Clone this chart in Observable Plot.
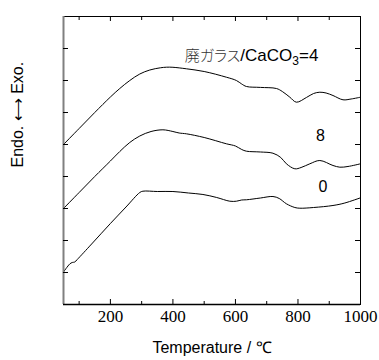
<!DOCTYPE html>
<html><head><meta charset="utf-8">
<script src="https://cdn.jsdelivr.net/npm/d3@7"></script>
<script src="https://cdn.jsdelivr.net/npm/@observablehq/plot@0.6"></script>
<style>body{margin:0;background:#fff}</style>
</head><body><div id="chart"></div>
<script>
// Series "4" (waste glass / CaCO3 = 4)
const temps4 = [50,100,150,200,230,262,294,326,360,380,400,443,500,571,603,620,635,680,731,750,774,795,827,850,870,890,912,944,970,1000];
const dta4   = [5.000,5.500,6.000,6.484,6.750,7.000,7.203,7.328,7.397,7.416,7.413,7.366,7.281,7.103,7.000,6.891,6.813,6.784,6.750,6.656,6.478,6.322,6.469,6.594,6.634,6.609,6.531,6.397,6.422,6.478];
// Series "8"
const temps8 = [50,100,150,200,230,262,294,330,368,400,420,443,500,571,600,620,635,680,720,745,763,790,810,838,870,912,934,960,1000];
const dta8   = [3.000,3.500,4.000,4.484,4.781,5.063,5.266,5.406,5.459,5.406,5.359,5.334,5.219,5.022,4.953,4.844,4.791,4.766,4.728,4.594,4.397,4.241,4.281,4.397,4.500,4.344,4.291,4.313,4.397];
// Series "0"
const temps0 = [50,70,78,86,94,140,200,250,294,304,350,400,450,496,540,582,603,620,635,680,720,740,763,790,806,850,912,950,1000];
const dta0   = [1.016,1.266,1.313,1.328,1.406,1.891,2.531,3.047,3.500,3.541,3.531,3.531,3.484,3.438,3.344,3.228,3.228,3.266,3.272,3.328,3.375,3.313,3.147,3.031,3.009,3.031,3.094,3.172,3.334];

const seriesNames = ["4", "8", "0"];
const xDomain = [50, 1000];
const yDomain = [0, 9];
const xMajorTicks = [200, 400, 600, 800, 1000];
const xMinorTicks = [100, 300, 500, 700, 900];
const yTicks = [1, 2, 3, 4, 5, 6, 7, 8];
const xLabel = "Temperature / ℃";
const yLabel = "Endo. ⟷ Exo.";
const label4Parts = ["廃ガラス", "/CaCO", "3", "=4"];
const seriesLabels = [label4Parts.join(""), "8", "0"];
const seriesLabelX = [438, 872, 880];
const seriesLabelY = [7.78, 5.28, 3.69];

const rows = [
  ...temps4.map((t, i) => ({series: seriesNames[0], T: t, v: dta4[i]})),
  ...temps8.map((t, i) => ({series: seriesNames[1], T: t, v: dta8[i]})),
  ...temps0.map((t, i) => ({series: seriesNames[2], T: t, v: dta0[i]}))
];
const labelRows = seriesLabels.map((s, i) => ({text: s, x: seriesLabelX[i], y: seriesLabelY[i]}));

const W = 379, H = 360, mL = 63, mR = 19, mT = 16, mB = 56;
const fw = W - mL - mR, fh = H - mT - mB;
const serifStack = "Times New Roman, Liberation Serif, DejaVu Serif, Noto Serif, serif";

const chart = Plot.plot({
  width: W, height: H,
  marginLeft: mL, marginRight: mR, marginTop: mT, marginBottom: mB,
  style: {fontSize: "16px", background: "#fff", color: "#000"},
  x: {domain: xDomain, axis: null},
  y: {domain: yDomain, axis: null},
  marks: [
    Plot.line(rows, {x: "T", y: "v", z: "series", stroke: "#000", strokeWidth: 1, curve: "catmull-rom"}),
    Plot.frame({stroke: "#000", strokeWidth: 1}),
    Plot.ruleX([xDomain[0]], {stroke: "#808080", strokeWidth: 2}),
    Plot.ruleY([yDomain[0]], {stroke: "#000", strokeWidth: 1.3}),
    Plot.tickX(xMajorTicks, {x: d => d, insetTop: fh - 5, stroke: "#000"}),
    Plot.tickX(xMinorTicks, {x: d => d, insetTop: fh - 3, stroke: "#000"}),
    Plot.tickX(xMajorTicks, {x: d => d, insetBottom: fh - 5, stroke: "#000"}),
    Plot.tickX(xMinorTicks, {x: d => d, insetBottom: fh - 4, stroke: "#000"}),
    Plot.tickY(yTicks, {y: d => d, insetRight: fw - 5, stroke: "#000"}),
    Plot.tickY(yTicks, {y: d => d, insetLeft: fw - 5, stroke: "#000"}),
    Plot.text(xMajorTicks, {x: d => d, text: d => String(d), frameAnchor: "bottom", lineAnchor: "top", dy: 5, fontSize: 17, fontFamily: serifStack}),
    Plot.text([xLabel], {text: d => d, frameAnchor: "bottom", dy: 48, fontSize: 16, fontFamily: "Liberation Sans"}),
    Plot.text([yLabel], {text: d => d, frameAnchor: "left", dx: -46, dy: 7, rotate: -90, fontSize: 16, fontFamily: "Liberation Sans"}),
    Plot.text(labelRows.slice(0, 1), {x: "x", y: "y", text: "text", textAnchor: "start", fontSize: 17, fontFamily: "Liberation Sans"}),
    Plot.text(labelRows.slice(1), {x: "x", y: "y", text: "text", textAnchor: "middle", fontSize: 16, fontFamily: "Liberation Sans"})
  ]
});

d3.select(chart).selectAll("text").each(function () {
  if (this.textContent.trim() === seriesLabels[0]) {
    const t = d3.select(this);
    t.text(null);
    t.append("tspan").attr("font-family", "Noto Sans CJK JP").attr("font-size", 15).attr("font-weight", 300)
      .attr("fill", "#333").style("font-feature-settings", "'palt'").text(label4Parts[0]);
    t.append("tspan").text(label4Parts[1]);
    t.append("tspan").attr("font-size", 12).attr("dy", 4).text(label4Parts[2]);
    t.append("tspan").attr("dy", -4).text(label4Parts[3]);
  }
});

document.getElementById("chart").appendChild(chart);
</script>
</body></html>
